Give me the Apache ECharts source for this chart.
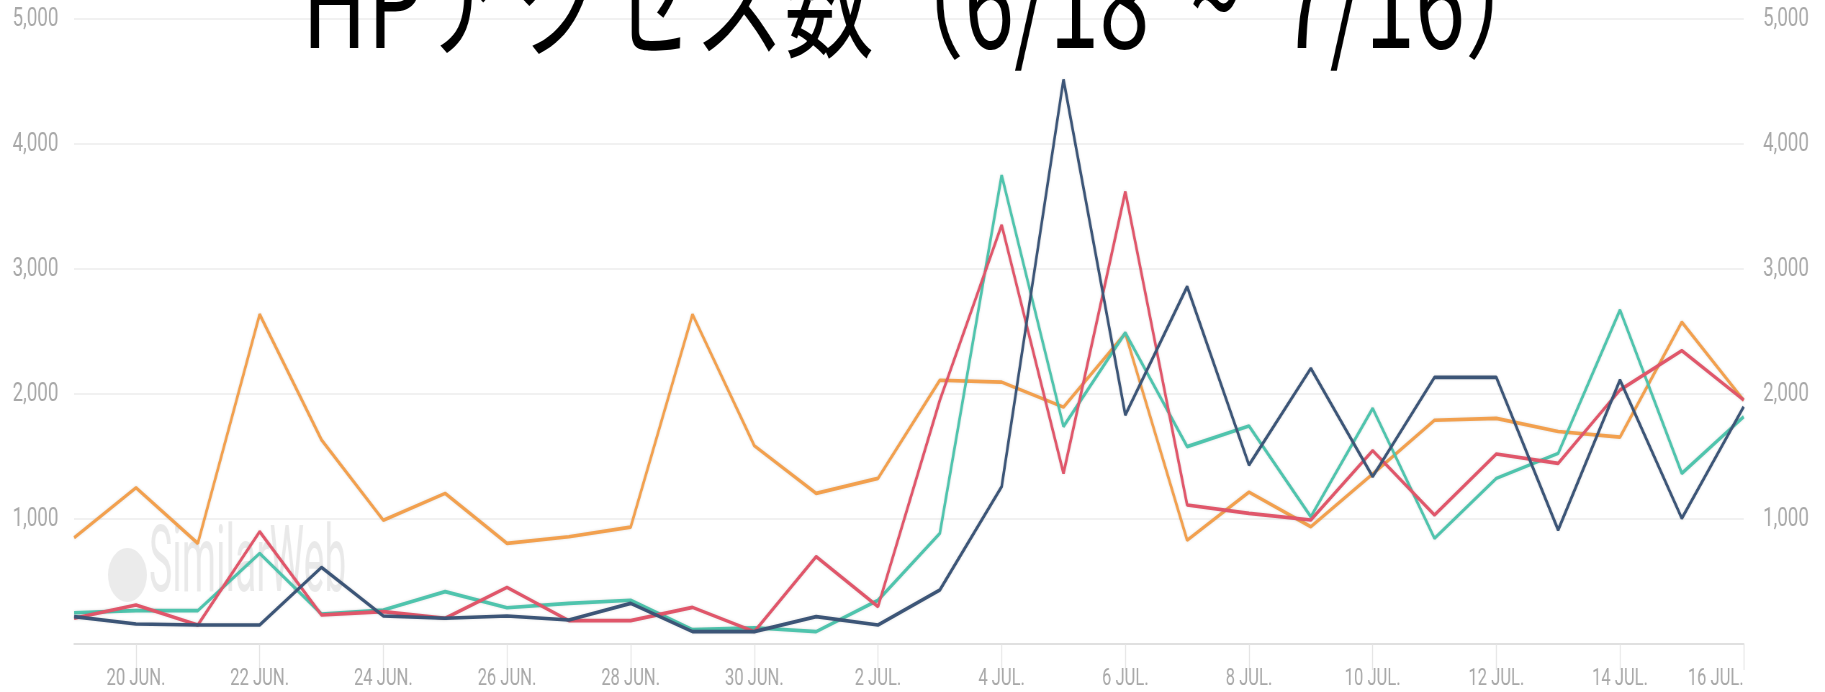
<!doctype html>
<html lang="ja">
<head>
<meta charset="UTF-8">
<title>HPアクセス数</title>
<style>
  html, body { margin: 0; padding: 0; background: #fff; overflow: hidden; }
  #wrap { width: 1825px; height: 692px; overflow: hidden; position: relative; }
  /* 元画像は横方向に圧縮されているので、広く描いてから縮める */
  #main { width: 2535px; height: 692px; transform: scaleX(0.71992); transform-origin: 0 0; }
</style>
</head>
<body>
<div id="wrap"><div id="main"></div></div>
<script src="https://cdn.jsdelivr.net/npm/echarts@6/dist/echarts.min.js"></script>
<script>
// 日付 (6/19 ~ 7/16)
var days = ['19 JUN.','20 JUN.','21 JUN.','22 JUN.','23 JUN.','24 JUN.','25 JUN.','26 JUN.','27 JUN.','28 JUN.',
            '29 JUN.','30 JUN.','1 JUL.','2 JUL.','3 JUL.','4 JUL.','5 JUL.','6 JUL.','7 JUL.','8 JUL.',
            '9 JUL.','10 JUL.','11 JUL.','12 JUL.','13 JUL.','14 JUL.','15 JUL.','16 JUL.'];

var orangeVals = [850,1250,805,2637,1633,990,1205,805,858,935,2637,1586,1205,1325,2110,2095,1895,2485,830,1215,938,1360,1790,1805,1700,1655,2575,1950];
var tealVals   = [250,267,267,725,240,272,419,290,325,350,115,130,99,350,885,3750,1740,2490,1579,1744,1018,1885,845,1325,1525,2672,1365,1818];
var redVals    = [206,312,152,899,232,259,206,453,187,187,293,99,699,299,1950,3352,1365,3619,1112,1045,992,1547,1032,1520,1445,2032,2347,1952];
var navyVals   = [219,160,152,152,613,224,206,224,192,325,99,99,219,152,432,1259,4516,1832,2859,1432,2205,1339,2133,2133,912,2112,1005,1898];

var yTicks = [0, 1000, 2000, 3000, 4000, 5000];

var myChart = echarts.init(document.getElementById('main'));

function yFmt(v) {
    if (v === 0) return '';
    return v.toLocaleString('en-US');
}
function everyOther(idx) {
    return idx % 2 === 1;
}

function line(name, color, data) {
    return {
        name: name,
        type: 'line',
        data: data,
        symbol: 'none',
        lineStyle: {
            color: color,
            width: 3.6,
            shadowBlur: 3,
            shadowColor: 'rgba(0,0,0,0.12)'
        },
        itemStyle: { color: color },
        animation: false
    };
}

var option = {
    backgroundColor: '#fff',
    title: {
        text: 'HPアクセス数（6/18  ~  7/16）',
        left: 414,
        top: -67,
        textStyle: {
            fontFamily: 'Noto Sans CJK JP',
            fontSize: 125,
            fontWeight: 'normal',
            color: '#000'
        }
    },
    graphic: [{
        type: 'circle',
        left: 150,
        top: 548,
        z: 0,
        shape: { r: 27 },
        style: { fill: 'rgba(0,0,0,0.08)' }
    }, {
        type: 'text',
        left: 207,
        top: 522,
        z: 0,
        scaleX: 0.59,
        style: {
            text: 'SimilarWeb',
            font: 'normal 92px Roboto',
            fill: 'rgba(0,0,0,0.085)'
        }
    }],
    grid: {
        left: 103,
        right: 113,
        top: 19,
        bottom: 48
    },
    xAxis: {
        type: 'category',
        boundaryGap: false,
        data: days,
        axisLine: { lineStyle: { color: '#e0e0e0', width: 2 } },
        axisTick: {
            show: true,
            interval: everyOther,
            length: 26,
            lineStyle: { color: '#e4e4e4', width: 1.4 }
        },
        axisLabel: {
            interval: everyOther,
            margin: 24,
            color: '#a8a8a8',
            fontFamily: 'Roboto',
            fontSize: 23,
            alignMaxLabel: 'right'
        }
    },
    yAxis: [{
        type: 'value',
        min: yTicks[0],
        max: yTicks[yTicks.length - 1],
        interval: 1000,
        position: 'left',
        axisLine: { show: false },
        axisTick: { show: false },
        splitLine: { lineStyle: { color: '#f1f1f1', width: 2 } },
        axisLabel: {
            formatter: yFmt,
            margin: 22,
            color: '#a8a8a8',
            fontFamily: 'Roboto',
            fontSize: 26
        }
    }, {
        type: 'value',
        min: yTicks[0],
        max: yTicks[yTicks.length - 1],
        interval: 1000,
        position: 'right',
        axisLine: { show: false },
        axisTick: { show: false },
        splitLine: { show: false },
        axisLabel: {
            formatter: yFmt,
            margin: 27,
            color: '#a8a8a8',
            fontFamily: 'Roboto',
            fontSize: 26
        }
    }],
    series: [
        line('orange', '#f2a04e', orangeVals),
        line('teal', '#4fc4ad', tealVals),
        line('red', '#e0566a', redVals),
        line('navy', '#3c5577', navyVals)
    ]
};

myChart.setOption(option);
</script>
</body>
</html>
